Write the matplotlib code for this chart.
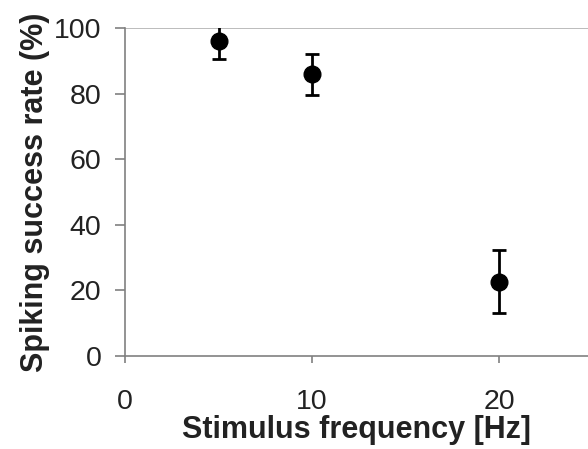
import matplotlib
matplotlib.use("Agg")
import matplotlib.pyplot as plt

freq = [5, 10, 20]
rate = [96.0, 86.0, 22.7]
err_up = [4.9, 6.2, 9.6]
err_down = [5.3, 6.3, 9.7]

xticks = [0, 10, 20]
yticks = [0, 20, 40, 60, 80, 100]

plt.rcParams['font.family'] = ['Liberation Sans', 'DejaVu Sans']

fig = plt.figure(figsize=(5.88, 4.49), dpi=100)
ax = fig.add_axes([125/588, 1-356/449, (588-125)/588, (356-28)/449])
gray = '#808080'

ax.axhline(100, color='#b0b0b0', lw=1.2, zorder=0)
ax.errorbar(freq, rate, yerr=[err_down, err_up], fmt='o', color='black',
            markersize=12, elinewidth=2, capsize=5, capthick=2)

ax.set_xlim(0, 24.75)
ax.set_ylim(0, 100)
ax.set_xticks(xticks)
ax.set_yticks(yticks)
ax.spines['top'].set_visible(False)
ax.spines['right'].set_visible(False)
for s in ['left', 'bottom']:
    ax.spines[s].set_color(gray)
    ax.spines[s].set_linewidth(1.2)
ax.tick_params(axis='y', direction='out', length=7, width=1.2, color=gray,
               labelsize=20.5, pad=10, labelcolor='#222222')
ax.tick_params(axis='x', direction='out', length=5, width=1.2, color=gray,
               labelsize=20.5, pad=19, labelcolor='#222222')
ax.set_xlabel('Stimulus frequency [Hz]', fontsize=22, fontweight='bold',
              color='#222222', labelpad=0)
ax.set_ylabel('Spiking success rate (%)', fontsize=22, fontweight='bold',
              color='#222222', labelpad=3)

fig.savefig('out.png', dpi=100)
